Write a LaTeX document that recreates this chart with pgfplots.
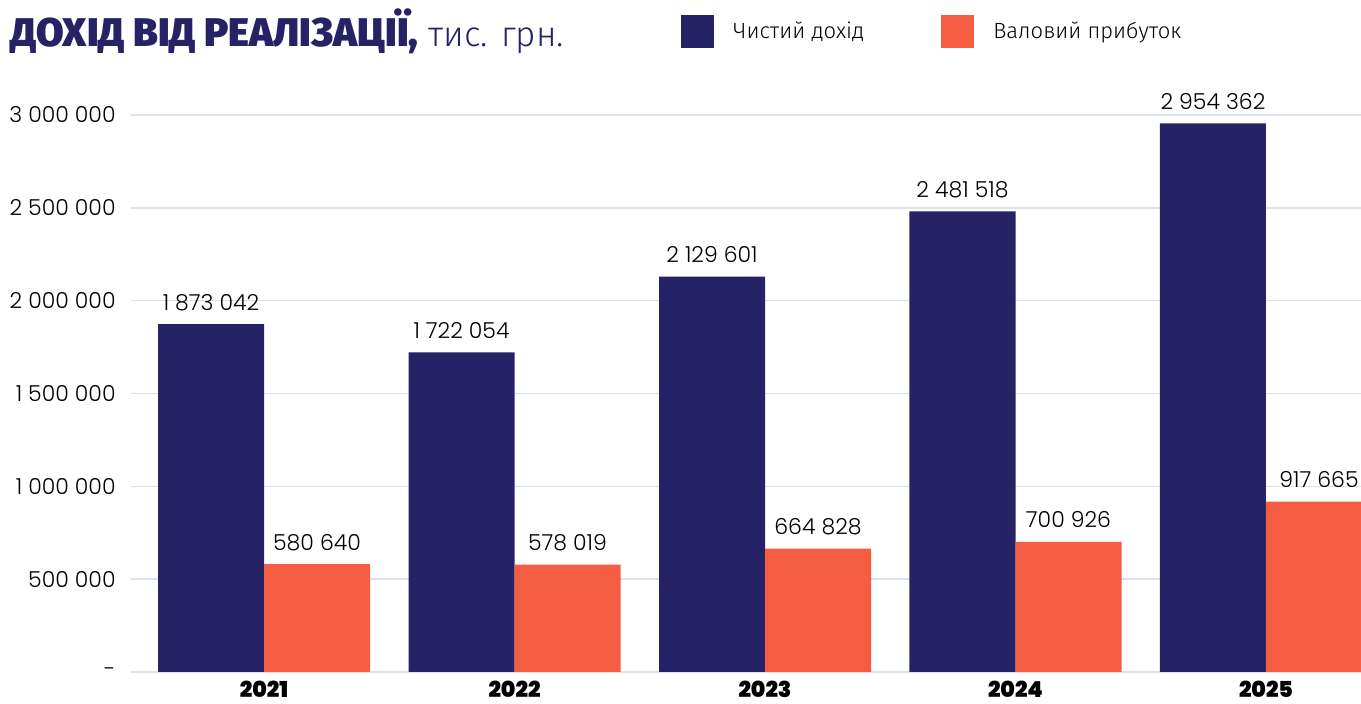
\documentclass[border=0pt]{standalone}
\usepackage{fontspec}
\usepackage{pgfplots}
\pgfplotsset{compat=1.18}
\usepackage{pgfplotstable}
\newfontfamily\numfont{Poppins Light}
\newfontfamily\yearfont{Poppins Black}
\newfontfamily\cyrfont{Fira Sans Light}
\newfontfamily\titlefont{Fira Sans Black}
\definecolor{navy}{RGB}{38,34,102}
\definecolor{coral}{RGB}{245,93,67}
\definecolor{gridc}{RGB}{217,225,242}

\pgfplotstableread[col sep=comma]{
x,y,label
0,1873042,1 873 042
1,1722054,1 722 054
2,2129601,2 129 601
3,2481518,2 481 518
4,2954362,2 954 362
}\navydata

\pgfplotstableread[col sep=comma]{
x,y,label
0,580640,580 640
1,578019,578 019
2,664828,664 828
3,700926,700 926
4,917665,917 665
}\coraldata

\begin{document}
\begin{tikzpicture}
\begin{axis}[
  scale only axis,
  width=634pt, height=278.5pt,
  xmin=-0.531, xmax=4.531,
  ymin=0, ymax=3000000,
  scaled y ticks=false,
  ybar=0pt, bar width=53pt,
  clip=false,
  axis line style={draw=none},
  tick style={draw=none},
  ymajorgrids,
  major grid style={draw=gridc, line width=0.8pt},
  xtick={0,1,2,3,4},
  xticklabels={2021,2022,2023,2024,2025},
  xticklabel style={font=\yearfont\fontsize{11}{13}\selectfont, anchor=north, inner sep=0pt, yshift=0pt},
  ytick={0,500000,1000000,1500000,2000000,2500000,3000000},
  yticklabels={-,500 000,1 000 000,1 500 000,2 000 000,2 500 000,3 000 000},
  yticklabel style={font=\numfont\fontsize{11}{13}\selectfont, anchor=east, inner sep=0pt, xshift=-7.5pt},
  point meta=explicit symbolic,
  nodes near coords,
  every node near coord/.append style={font=\numfont\fontsize{11}{13}\selectfont, anchor=base, inner sep=0pt, yshift=7pt, text=black},
  legend columns=2,
  legend style={at={(axis description cs:0.4338,1.149)}, anchor=west, draw=none, fill=none, inner sep=0pt,
    font=\cyrfont\fontsize{11}{13}\selectfont,
    nodes={inner sep=0pt},
    /tikz/every odd column/.append style={column sep=9.5pt},
    /tikz/every even column/.append style={column sep=38.5pt}},
  legend image code/.code={\fill[#1] (0pt,-8.25pt) rectangle (16.5pt,8.25pt);},
]
\addplot[fill=navy, draw=none] table[x=x, y=y, meta=label]{\navydata};
\addplot[fill=coral, draw=none] table[x=x, y=y, meta=label]{\coraldata};
\legend{Чистий дохід, Валовий прибуток}
\end{axis}
\node[anchor=base west, inner sep=0pt, text=navy] at (-60.5pt,312.5pt)
  {{\titlefont\fontsize{20}{22}\selectfont ДОХІД ВІД РЕАЛІЗАЦІЇ,}\hspace{5pt}{\cyrfont\fontsize{17.5}{20}\selectfont тис. грн.}};
\pgfresetboundingbox
\useasboundingbox (-65.5pt,-16pt) rectangle (615pt,336pt);
\end{tikzpicture}
\end{document}
